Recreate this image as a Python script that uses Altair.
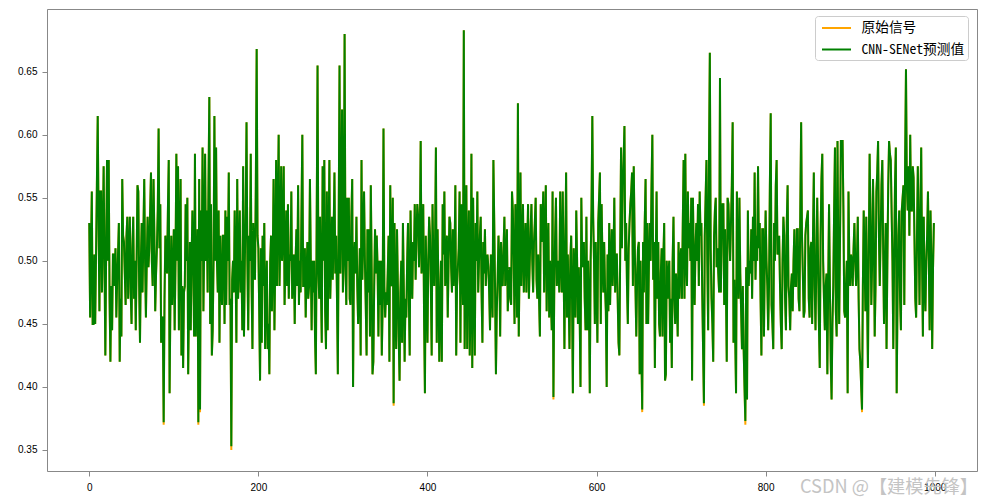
import altair as alt
import pandas as pd

# ---- data ----
seg_a = [
    0.530, 0.455, 0.505, 0.555, 0.450, 0.450, 0.505, 0.450, 0.505, 0.560,
    0.615, 0.530, 0.460, 0.555, 0.555, 0.475, 0.520, 0.575, 0.500, 0.425,
    0.510, 0.580, 0.500, 0.580, 0.470, 0.420, 0.480, 0.445, 0.505, 0.505,
    0.480, 0.510, 0.455, 0.485, 0.505, 0.530, 0.420, 0.470, 0.440, 0.565,
    0.520, 0.515, 0.490, 0.465, 0.520, 0.535, 0.470, 0.510, 0.535, 0.475,
    0.450, 0.510, 0.535, 0.470, 0.500, 0.445, 0.500, 0.560, 0.555, 0.480,
    0.435, 0.500, 0.530, 0.475, 0.520, 0.565, 0.500, 0.455, 0.500, 0.535,
    0.495, 0.510, 0.540, 0.570, 0.500, 0.480, 0.565, 0.520, 0.460, 0.490,
    0.510, 0.540, 0.605, 0.510, 0.545, 0.435, 0.455, 0.455, 0.370, 0.470,
    0.520, 0.500, 0.490, 0.540, 0.580, 0.395, 0.470, 0.520, 0.465, 0.490,
    0.525, 0.445, 0.500, 0.585, 0.500, 0.575, 0.445, 0.520, 0.565, 0.425,
    0.480, 0.415, 0.475, 0.480, 0.545, 0.500, 0.550, 0.410, 0.470, 0.515,
    0.445, 0.500, 0.540, 0.500, 0.440, 0.585, 0.440, 0.490, 0.525, 0.370,
    0.565, 0.380, 0.540, 0.500, 0.590, 0.460, 0.520, 0.585, 0.500, 0.540,
    0.475, 0.560, 0.630, 0.450, 0.545, 0.425, 0.445, 0.500, 0.615, 0.500,
    0.590, 0.500, 0.475, 0.540, 0.435, 0.520, 0.480, 0.465, 0.520, 0.520,
    0.450, 0.540, 0.465, 0.535, 0.500, 0.570, 0.465, 0.470, 0.350, 0.485,
    0.500, 0.475, 0.540, 0.500, 0.435, 0.565, 0.470, 0.500, 0.540, 0.475,
    0.500, 0.445, 0.575, 0.440, 0.500, 0.540, 0.610, 0.500, 0.445, 0.520,
    0.500, 0.585, 0.480, 0.430, 0.530, 0.500, 0.485, 0.560, 0.668, 0.520,
    0.510, 0.460, 0.405, 0.510, 0.435, 0.520, 0.480, 0.530, 0.430, 0.475,
    0.500, 0.430, 0.450, 0.410, 0.500, 0.520, 0.460, 0.500, 0.565, 0.445,
    0.500, 0.580, 0.480, 0.540, 0.600, 0.480, 0.520, 0.575, 0.500, 0.520,
    0.575, 0.465, 0.500, 0.540, 0.480,
]
seg_b = [
    0.545, 0.470, 0.505, 0.500, 0.555, 0.470, 0.490, 0.505, 0.450, 0.500,
    0.525, 0.480, 0.560, 0.465, 0.500, 0.475, 0.540, 0.600, 0.480, 0.480,
    0.510, 0.455, 0.490, 0.515, 0.470, 0.480, 0.565, 0.500, 0.445, 0.500,
    0.475, 0.500, 0.440, 0.410, 0.535, 0.655, 0.490, 0.470, 0.535, 0.480,
    0.435, 0.575, 0.500, 0.580, 0.460, 0.430, 0.555, 0.445, 0.510, 0.580,
    0.470, 0.500, 0.535, 0.485, 0.520, 0.570, 0.490, 0.520, 0.470, 0.410,
    0.530, 0.655, 0.490, 0.540, 0.620, 0.475, 0.505, 0.680, 0.500, 0.465,
    0.550, 0.500, 0.550, 0.470, 0.465, 0.535, 0.565, 0.400, 0.500, 0.515,
    0.490, 0.535, 0.480, 0.450, 0.475, 0.510, 0.425, 0.580, 0.485, 0.520,
    0.555, 0.500, 0.465, 0.425, 0.525, 0.475, 0.525, 0.440, 0.560, 0.495,
    0.410, 0.420, 0.480, 0.525, 0.490, 0.520, 0.495, 0.440, 0.500, 0.465,
    0.500, 0.425, 0.465, 0.605, 0.480, 0.455, 0.475, 0.465, 0.490, 0.520,
    0.420, 0.560, 0.480, 0.490, 0.550, 0.385, 0.530, 0.470, 0.430, 0.525,
    0.480, 0.440, 0.405, 0.475, 0.500, 0.435, 0.530, 0.480, 0.420, 0.470,
    0.455, 0.500, 0.530, 0.470, 0.425, 0.540, 0.490, 0.470, 0.515, 0.500,
    0.545, 0.485, 0.520, 0.545, 0.535, 0.495, 0.520, 0.595, 0.490, 0.500,
    0.545, 0.455, 0.395, 0.520, 0.480, 0.435, 0.500, 0.535, 0.520, 0.480,
    0.425, 0.545, 0.500, 0.480, 0.515, 0.590, 0.435, 0.525, 0.480, 0.420,
    0.465, 0.500, 0.420, 0.545, 0.505, 0.555, 0.480, 0.495, 0.520, 0.455,
    0.500, 0.535, 0.530, 0.495, 0.475, 0.525, 0.480, 0.500, 0.560, 0.425,
    0.480, 0.495, 0.510, 0.555, 0.435, 0.545, 0.500, 0.465, 0.683, 0.430,
    0.490, 0.560, 0.430, 0.510, 0.540, 0.425, 0.465, 0.585, 0.415, 0.550,
    0.480, 0.425, 0.530, 0.500, 0.555, 0.475, 0.500, 0.520, 0.535, 0.475,
    0.435, 0.515, 0.490, 0.525, 0.480, 0.500, 0.505, 0.495, 0.475, 0.445,
    0.505, 0.480, 0.455, 0.580, 0.530, 0.475, 0.410, 0.460, 0.485, 0.520,
    0.500, 0.440, 0.515, 0.490, 0.480, 0.510, 0.535, 0.480, 0.500, 0.525,
    0.460, 0.480, 0.495, 0.470, 0.465, 0.555, 0.540, 0.500, 0.450, 0.545,
    0.500, 0.455, 0.625, 0.440,
]
seg_c = [
    0.500, 0.570, 0.480, 0.510, 0.545, 0.475, 0.510, 0.530, 0.475, 0.510,
    0.545, 0.470, 0.500, 0.525, 0.545, 0.500, 0.475, 0.515, 0.530, 0.550,
    0.485, 0.470, 0.505, 0.470, 0.440, 0.545, 0.515, 0.530, 0.555, 0.475,
    0.520, 0.560, 0.460, 0.510, 0.530, 0.455, 0.500, 0.470, 0.445, 0.555,
    0.390, 0.480, 0.520, 0.550, 0.480, 0.500, 0.490, 0.475, 0.555, 0.500,
    0.475, 0.555, 0.500, 0.430, 0.510, 0.570, 0.455, 0.505, 0.470, 0.430,
    0.500, 0.520, 0.470, 0.395, 0.510, 0.490, 0.455, 0.540, 0.500, 0.450,
    0.495, 0.460, 0.400, 0.550, 0.500, 0.495, 0.515, 0.470, 0.445, 0.535,
    0.445, 0.500, 0.470, 0.395, 0.500, 0.540, 0.615, 0.535, 0.500, 0.450,
    0.515, 0.480, 0.435, 0.530, 0.550, 0.570, 0.450, 0.545, 0.500, 0.475,
    0.515, 0.480, 0.460, 0.400, 0.505, 0.460, 0.530, 0.465, 0.500, 0.525,
    0.480, 0.500, 0.550, 0.475, 0.505, 0.505, 0.470, 0.435, 0.425, 0.510,
    0.590, 0.510, 0.560, 0.580, 0.607, 0.500, 0.530, 0.480, 0.450, 0.510,
    0.530, 0.545, 0.555, 0.570, 0.480, 0.575, 0.520, 0.480, 0.440, 0.485,
    0.510, 0.515, 0.410, 0.500, 0.430, 0.380, 0.515, 0.475, 0.530, 0.565,
    0.450, 0.530, 0.450, 0.500, 0.530, 0.500, 0.560, 0.600, 0.485, 0.515,
    0.415, 0.500, 0.555, 0.470, 0.515, 0.450, 0.440, 0.490, 0.510, 0.440,
    0.500, 0.530, 0.405, 0.410, 0.500, 0.470, 0.490, 0.500, 0.435, 0.470,
    0.415, 0.500, 0.535, 0.470, 0.450, 0.490, 0.470, 0.440, 0.515, 0.470,
    0.500, 0.510, 0.470, 0.530, 0.580, 0.470, 0.585, 0.500, 0.480, 0.555,
    0.510, 0.530, 0.500, 0.550, 0.405, 0.550, 0.500, 0.465, 0.510, 0.530,
    0.500, 0.545, 0.480, 0.555, 0.520, 0.530, 0.475, 0.430, 0.385, 0.520,
    0.550, 0.580, 0.500, 0.445, 0.580, 0.665, 0.510, 0.470, 0.450, 0.420,
    0.520, 0.540, 0.550, 0.495, 0.510, 0.490, 0.475, 0.645, 0.475, 0.520,
    0.545, 0.545, 0.465, 0.525, 0.480, 0.420, 0.550, 0.545, 0.520, 0.500,
    0.530, 0.560, 0.610, 0.435, 0.485, 0.440, 0.395, 0.555, 0.500, 0.470,
    0.550, 0.490, 0.460, 0.430, 0.480, 0.430, 0.400, 0.370, 0.495, 0.390,
    0.540, 0.480, 0.500,
]
seg_d = [
    0.490, 0.525, 0.470, 0.535, 0.500, 0.570, 0.485, 0.520, 0.500, 0.575,
    0.510, 0.530, 0.470, 0.425, 0.525, 0.525, 0.440, 0.500, 0.540, 0.500,
    0.480, 0.445, 0.480, 0.560, 0.617, 0.465, 0.450, 0.430, 0.530, 0.500,
    0.560, 0.580, 0.505, 0.510, 0.520, 0.480, 0.450, 0.430, 0.500, 0.535,
    0.520, 0.470, 0.445, 0.530, 0.560, 0.480, 0.470, 0.445, 0.480, 0.490,
    0.460, 0.500, 0.525, 0.480, 0.480, 0.525, 0.525, 0.470, 0.460, 0.540,
    0.610, 0.520, 0.490, 0.455, 0.460, 0.520, 0.530, 0.535, 0.540, 0.470,
    0.455, 0.510, 0.515, 0.450, 0.520, 0.570, 0.480, 0.445, 0.500, 0.550,
    0.500, 0.450, 0.415, 0.520, 0.565, 0.585, 0.500, 0.470, 0.445, 0.480,
    0.490, 0.410, 0.480, 0.545, 0.480, 0.420, 0.390, 0.450, 0.480, 0.540,
    0.590, 0.460, 0.440, 0.595, 0.500, 0.450, 0.520, 0.595, 0.595, 0.595,
    0.540, 0.460, 0.455, 0.480, 0.500, 0.395, 0.555, 0.500, 0.480, 0.505,
    0.500, 0.480, 0.510, 0.530, 0.500, 0.480, 0.500, 0.535, 0.470, 0.430,
    0.420, 0.400, 0.380, 0.480, 0.540, 0.500, 0.460, 0.535, 0.470, 0.415,
    0.510, 0.585, 0.530, 0.465, 0.500, 0.565, 0.520, 0.440, 0.480, 0.555,
    0.570, 0.595, 0.520, 0.480, 0.520, 0.560, 0.580, 0.510, 0.450, 0.490,
    0.530, 0.430, 0.500, 0.560, 0.595, 0.585, 0.580, 0.540, 0.500, 0.430,
    0.500, 0.560, 0.590, 0.395, 0.470, 0.520, 0.540, 0.470, 0.445, 0.540,
    0.550, 0.560, 0.465, 0.580, 0.652, 0.560, 0.540, 0.575, 0.520, 0.600,
    0.540, 0.540, 0.575, 0.566, 0.520, 0.470, 0.455, 0.520, 0.575, 0.520,
    0.465, 0.540, 0.590, 0.500, 0.440, 0.535, 0.480, 0.460, 0.500, 0.520,
    0.555, 0.500, 0.445, 0.540, 0.500, 0.430, 0.495, 0.530,
]
original = seg_a + seg_b + seg_c + seg_d

# prediction matches the original except where the orange line peeks out
pred_diff = {88: 0.372, 129: 0.372, 131: 0.382, 168: 0.353, 360: 0.387,
             549: 0.392, 654: 0.382, 727: 0.387, 776: 0.373, 914: 0.382}
predicted = [pred_diff.get(i, v) for i, v in enumerate(original)]

series_names = ["原始信号", "CNN-SENet预测值"]
series_colors = ["orange", "green"]
x_ticks = [0, 200, 400, 600, 800, 1000]
y_ticks = [0.35, 0.40, 0.45, 0.50, 0.55, 0.60, 0.65]
watermark = ["CSDN @【建模先锋】"]

n = len(original)
df = pd.DataFrame({
    "idx": list(range(n)) * 2,
    "value": original + predicted,
    "series": [series_names[0]] * n + [series_names[1]] * n,
})

FONT = "'Noto Sans Mono CJK SC', 'Noto Sans CJK SC', sans-serif"
WM_FONT = "Noto Sans CJK SC"
x_scale = alt.Scale(domain=[-50, 1050], nice=False, zero=False)
y_scale = alt.Scale(domain=[0.3333, 0.6998], nice=False, zero=False)

x_axis = alt.Axis(values=x_ticks, title=None, grid=False, format="d",
                  labelPadding=6)
y_axis = alt.Axis(values=y_ticks, title=None, grid=False, format=".2f",
                  labelPadding=5)

color_enc = alt.Color(
    "series:N",
    scale=alt.Scale(domain=series_names, range=series_colors),
    legend=alt.Legend(
        title=None, orient="none", legendX=768, legendY=7,
        symbolType="M-2,0H2", symbolSize=210, symbolStrokeWidth=2,
        symbolOffset=9.5,
        labelFont=FONT, labelFontSize=13.7, labelColor="black",
        labelOffset=16.5, rowPadding=5.5, padding=3.5,
        strokeColor="#cccccc", cornerRadius=3, fillColor="white",
    ),
)

line_orig = alt.Chart(df).mark_line(strokeWidth=2, clip=True).encode(
    x=alt.X("idx:Q", scale=x_scale, axis=x_axis),
    y=alt.Y("value:Q", scale=y_scale, axis=y_axis),
    color=color_enc,
).transform_filter(alt.datum.series == series_names[0])

line_pred = alt.Chart(df).mark_line(strokeWidth=2, clip=True).encode(
    x=alt.X("idx:Q", scale=x_scale, axis=None),
    y=alt.Y("value:Q", scale=y_scale, axis=None),
    color=color_enc,
).transform_filter(alt.datum.series == series_names[1])

# top / right spines of the frame
frame = alt.Chart(pd.DataFrame({"idx": [0], "value": [0.5]})).mark_point(
    opacity=0).encode(
    x=alt.X("idx:Q", scale=x_scale,
            axis=alt.Axis(orient="top", labels=False, ticks=False,
                          title=None, grid=False)),
    y=alt.Y("value:Q", scale=y_scale,
            axis=alt.Axis(orient="right", labels=False, ticks=False,
                          title=None, grid=False)),
)

wm = alt.Chart(pd.DataFrame({"t": watermark})).mark_text(
    align="left", baseline="alphabetic", font=WM_FONT, fontSize=18.2,
    color="#c4c4c4").encode(x=alt.value(753), y=alt.value(484), text="t:N")

chart = alt.layer(wm, line_orig, line_pred, frame).resolve_axis(
    x="independent", y="independent"
).properties(
    width=930, height=462,
    autosize=alt.AutoSizeParams(type="none"),
    padding={"left": 39, "top": 1, "right": 2, "bottom": 30},
).configure_view(
    stroke=None
).configure_axis(
    domainColor="black", tickColor="black", labelColor="black",
    labelFont=FONT, labelFontSize=13.9, tickSize=5,
    domainWidth=1, tickWidth=1, zindex=1,
).configure(background="white")

chart.save("out.html", embed_options={"renderer": "svg", "actions": False})
